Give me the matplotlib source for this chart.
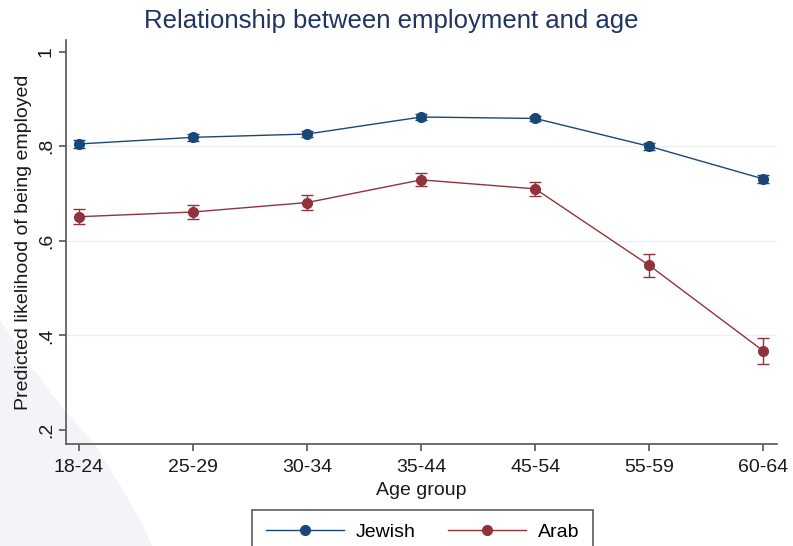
import matplotlib
matplotlib.use("Agg")
import matplotlib.pyplot as plt
from matplotlib.patches import Polygon
from matplotlib.lines import Line2D
import numpy as np

plt.rcParams['font.family'] = ['Liberation Sans', 'DejaVu Sans']

age_groups = ["18-24", "25-29", "30-34", "35-44", "45-54", "55-59", "60-64"]
jewish = [0.805, 0.819, 0.826, 0.862, 0.859, 0.800, 0.731]
jewish_err = [0.008, 0.007, 0.007, 0.006, 0.006, 0.007, 0.008]
arab = [0.651, 0.661, 0.681, 0.729, 0.710, 0.548, 0.367]
arab_err = [0.016, 0.015, 0.016, 0.014, 0.015, 0.024, 0.028]
yticks = [0.2, 0.4, 0.6, 0.8, 1.0]
ytick_labels = [".2", ".4", ".6", ".8", "1"]

blue = "#1a4876"
red = "#90333b"
txt = "#1a1a1a"

fig = plt.figure(figsize=(7.93, 5.46), dpi=100)
fig.patch.set_facecolor("white")

# decorative background shape
pts = [(0, 546 - 320), (30, 546 - 365), (60, 546 - 405), (95, 546 - 445),
       (120, 546 - 485), (140, 546 - 520), (152, 0), (0, 0)]
pts = [(x / 793, y / 546) for x, y in pts]
fig.patches.append(Polygon(pts, closed=True, transform=fig.transFigure,
                           facecolor="#f3f4f8", edgecolor="none", zorder=-10))

ax = fig.add_axes([66 / 793, 1 - 444 / 546, (777 - 66) / 793, (444 - 40) / 546])
ax.patch.set_alpha(0)
ax.set_zorder(1)

x = np.arange(len(age_groups))
ax.errorbar(x, jewish, yerr=jewish_err, color=blue, marker="o", markersize=7,
            linewidth=1.0, capsize=4, elinewidth=1.0, zorder=3)
ax.errorbar(x, arab, yerr=arab_err, color=red, marker="o", markersize=7,
            linewidth=1.0, capsize=4, elinewidth=1.0, zorder=3)

ax.set_xlim(-0.114, 6.12)
ax.set_ylim(0.17, 1.025)
ax.set_xticks(x)
ax.set_xticklabels(age_groups, fontsize=14, color=txt)
ax.set_yticks(yticks)
ax.set_yticklabels(ytick_labels, fontsize=14, rotation=90, va="center", color=txt)
for v in [0.4, 0.6, 0.8]:
    ax.axhline(v, color="#eaf1f5", linewidth=1.0, zorder=1)

for s in ["top", "right"]:
    ax.spines[s].set_visible(False)
for s in ["left", "bottom"]:
    ax.spines[s].set_color("#555555")
    ax.spines[s].set_linewidth(1.2)
ax.tick_params(axis="both", length=5, width=1.2, color="#555555", pad=3)
ax.tick_params(axis="x", pad=6)

ax.set_xlabel("Age group", fontsize=14, color=txt, labelpad=4)
ax.set_ylabel("Predicted likelihood of being employed", fontsize=14, color=txt, labelpad=4)
fig.text(391 / 793, 1 - 21 / 546, "Relationship between employment and age",
         ha="center", va="center", fontsize=18.5, color="#1f3461")

handles = [Line2D([], [], color=blue, marker="o", markersize=7, linewidth=1.0),
           Line2D([], [], color=red, marker="o", markersize=7, linewidth=1.0)]
leg = fig.legend(handles, ["Jewish", "Arab"], loc="upper center",
                 bbox_to_anchor=(422.5 / 793, 1 - 510 / 546),
                 ncol=2, frameon=True, fancybox=False, fontsize=14,
                 handlelength=4.0, handletextpad=0.6, columnspacing=1.7,
                 borderpad=0.7, borderaxespad=0, edgecolor="#333333")
leg.get_frame().set_linewidth(1.2)

fig.savefig("out.png", dpi=100, facecolor="white")
